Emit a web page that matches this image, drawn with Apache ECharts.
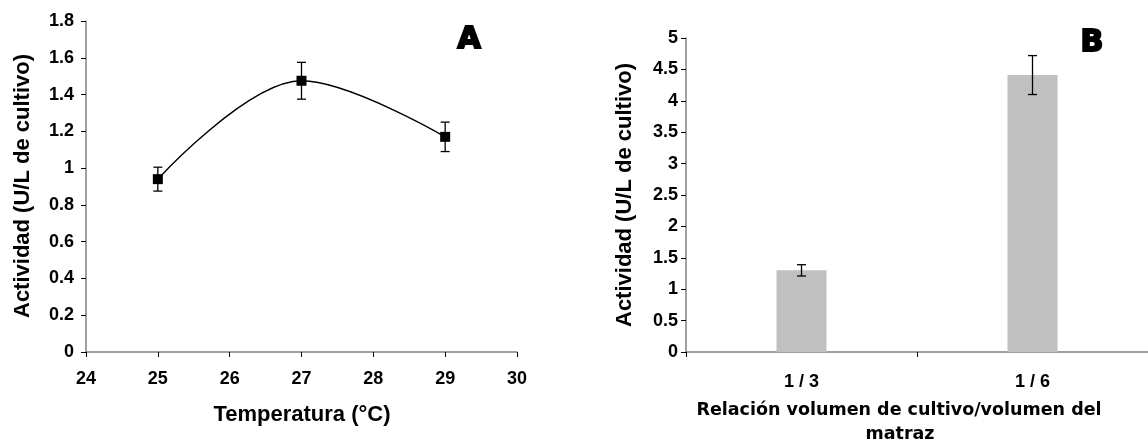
<!DOCTYPE html>
<html>
<head>
<meta charset="utf-8">
<script src="https://cdn.jsdelivr.net/npm/echarts@6/dist/echarts.min.js"></script>
<style>
html,body{margin:0;padding:0;background:#fff;}
#chart{width:1148px;height:442px;}
</style>
</head>
<body>
<div id="chart"></div>
<script>
// Panel A data
const tempX = [25, 27, 29];
const actA = [0.94, 1.475, 1.17];
const errA = [0.065, 0.1, 0.08];
// Panel B data
const catsB = ['1 / 3', '1 / 6'];
const actB = [1.3, 4.41];
const errB = [0.09, 0.31];

const FONT = '"Liberation Sans", Arial, sans-serif';
const chart = echarts.init(document.getElementById('chart'), null, {renderer: 'canvas'});

const axisLineStyle = {lineStyle: {color: '#808080', width: 1.5}};
const tickStyle = {show: true, inside: false, length: 5, lineStyle: {color: '#000', width: 1}};
const labelStyle = {color: '#000', fontFamily: FONT, fontWeight: 'bold', fontSize: 18};

function errRender(capHalf) {
  return function (params, api) {
    const x = api.value(0), lo = api.value(1), hi = api.value(2);
    const pLo = api.coord([x, lo]);
    const pHi = api.coord([x, hi]);
    const st = {stroke: '#000', lineWidth: 1.3};
    return {
      type: 'group',
      children: [
        {type: 'line', shape: {x1: pLo[0], y1: pLo[1], x2: pHi[0], y2: pHi[1]}, style: st},
        {type: 'line', shape: {x1: pLo[0] - capHalf, y1: pLo[1], x2: pLo[0] + capHalf, y2: pLo[1]}, style: st},
        {type: 'line', shape: {x1: pHi[0] - capHalf, y1: pHi[1], x2: pHi[0] + capHalf, y2: pHi[1]}, style: st}
      ]
    };
  };
}

const option = {
  backgroundColor: '#fff',
  animation: false,
  grid: [
    {left: 86, top: 21, width: 431, height: 331, containLabel: false},
    {left: 686, top: 38, right: 0, height: 314, containLabel: false}
  ],
  xAxis: [
    {
      gridIndex: 0, type: 'value', min: 24, max: 30, interval: 1,
      axisLine: axisLineStyle, axisTick: tickStyle,
      axisLabel: Object.assign({margin: 18}, labelStyle),
      splitLine: {show: false}
    },
    {
      gridIndex: 1, type: 'category', data: catsB, boundaryGap: true,
      axisLine: axisLineStyle, axisTick: Object.assign({alignWithLabel: false}, tickStyle),
      axisLabel: Object.assign({margin: 21}, labelStyle),
      splitLine: {show: false}
    }
  ],
  yAxis: [
    {
      gridIndex: 0, type: 'value', min: 0, max: 1.8, interval: 0.2,
      axisLine: Object.assign({show: true}, axisLineStyle), axisTick: tickStyle,
      axisLabel: Object.assign({margin: 12}, labelStyle),
      splitLine: {show: false}
    },
    {
      gridIndex: 1, type: 'value', min: 0, max: 5, interval: 0.5,
      axisLine: Object.assign({show: true}, axisLineStyle), axisTick: tickStyle,
      axisLabel: Object.assign({margin: 8}, labelStyle),
      splitLine: {show: false}
    }
  ],
  series: [
    {
      type: 'line', xAxisIndex: 0, yAxisIndex: 0,
      data: tempX.map((x, i) => [x, actA[i]]),
      smooth: 0.35,
      symbol: 'rect', symbolSize: 10,
      itemStyle: {color: '#000'},
      lineStyle: {color: '#000', width: 1.5},
      z: 3
    },
    {
      type: 'custom', xAxisIndex: 0, yAxisIndex: 0,
      data: tempX.map((x, i) => [x, actA[i] - errA[i], actA[i] + errA[i]]),
      renderItem: errRender(4.5),
      z: 4
    },
    {
      type: 'bar', xAxisIndex: 1, yAxisIndex: 1,
      data: actB, barWidth: 50,
      itemStyle: {color: '#C0C0C0'}
    },
    {
      type: 'custom', xAxisIndex: 1, yAxisIndex: 1,
      data: catsB.map((c, i) => [i, actB[i] - errB[i], actB[i] + errB[i]]),
      renderItem: errRender(4.5),
      z: 4
    }
  ],
  graphic: [
    {type: 'text', x: 23, y: 186, rotation: Math.PI / 2,
      style: {text: 'Actividad (U/L de cultivo)', fill: '#000', font: 'bold 22px ' + FONT, textAlign: 'center', textVerticalAlign: 'middle'}},
    {type: 'text', x: 302, y: 415, style: {text: 'Temperatura (°C)', fill: '#000', font: 'bold 22px ' + FONT, textAlign: 'center', textVerticalAlign: 'middle'}},
    {type: 'text', x: 469, y: 40, style: {text: 'A', fill: '#000', font: '900 30px "DejaVu Sans", sans-serif', textAlign: 'center', textVerticalAlign: 'middle', stroke: '#000', lineWidth: 2}},
    {type: 'text', x: 625, y: 195, rotation: Math.PI / 2,
      style: {text: 'Actividad (U/L de cultivo)', fill: '#000', font: 'bold 22px ' + FONT, textAlign: 'center', textVerticalAlign: 'middle'}},
    {type: 'text', x: 899, y: 410, style: {text: 'Relación volumen de cultivo/volumen del', fill: '#000', font: 'bold 17.5px "DejaVu Sans", sans-serif', textAlign: 'center', textVerticalAlign: 'middle'}},
    {type: 'text', x: 900, y: 434, style: {text: 'matraz', fill: '#000', font: 'bold 17.5px "DejaVu Sans", sans-serif', textAlign: 'center', textVerticalAlign: 'middle'}},
    {type: 'text', x: 1092, y: 43, style: {text: 'B', fill: '#000', font: '900 30px "DejaVu Sans", sans-serif', textAlign: 'center', textVerticalAlign: 'middle', stroke: '#000', lineWidth: 2}}
  ]
};
chart.setOption(option);
</script>
</body>
</html>
